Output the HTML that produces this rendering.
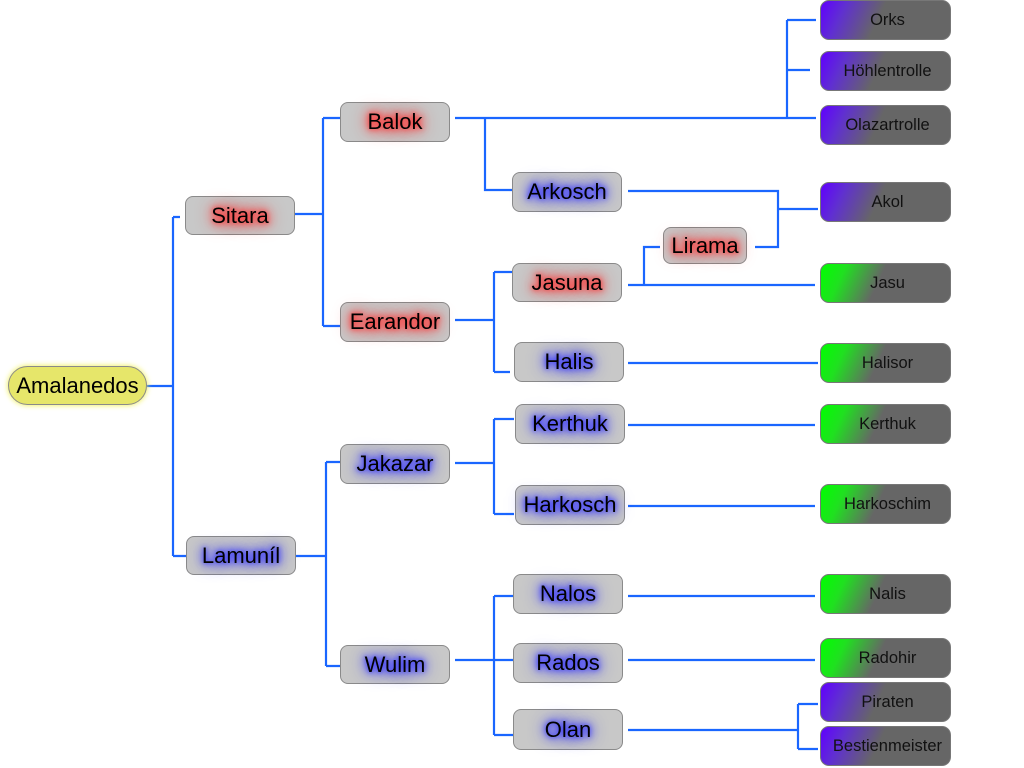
<!DOCTYPE html>
<html><head><meta charset="utf-8"><style>
body{margin:0;width:1024px;height:768px;background:#fff;position:relative;overflow:hidden;font-family:"Liberation Sans",sans-serif}
.n{position:absolute;box-sizing:border-box;background:#c8c8c8;border:1px solid #8a8a8a;border-radius:8px;display:flex;align-items:center;justify-content:center;font-size:22px;color:#000}
.r{text-shadow:0 0 5px #f33,0 0 9px #f33,0 0 14px #f44,0 0 18px #f55}
.b{text-shadow:0 0 5px #33f,0 0 9px #33f,0 0 14px #44f,0 0 18px #55f}
.y{background:#e6e66a;border-radius:20px;box-shadow:0 0 6px #ee4;}
.t{position:absolute;box-sizing:border-box;width:131px;height:40px;left:820px;border-radius:9px;border:1px solid #777;display:flex;align-items:center;justify-content:center;font-size:16.5px;color:#111;padding-left:4px}
.p{background:linear-gradient(115deg,#6000ff 0%,#6030d0 18%,#666 45%)}
.g{background:linear-gradient(115deg,#00ff00 0%,#20e020 18%,#666 45%)}
svg{position:absolute;left:0;top:0}
</style></head><body>
<svg width="1024" height="768"><g stroke="#1a66ff" stroke-width="2.2" fill="none">
<path d="M147 386H173M173 217V556M173 217H180M173 556H186"/>
<path d="M295 214H323M323 118V326M323 118H340M323 326H340"/>
<path d="M455 118H816M787 20V118M787 20H816M787 70H810M485 118V190H512"/>
<path d="M628 191H778V247H755M778 209H818M628 285H815M644 285V247H660"/>
<path d="M455 320H494M494 272V372M494 272H512M494 372H510M628 363H818"/>
<path d="M296 556H326M326 462V666M326 462H340M326 666H340"/>
<path d="M455 463H494M494 419V514M494 419H514M494 514H514M628 425H815M628 506H815"/>
<path d="M455 660H513M494 596V735M494 596H513M494 735H513M628 596H815M628 660H815M628 730H798M798 704V749M798 704H818M798 749H818"/>
</g></svg>
<div class="n y" style="left:8px;top:366px;width:139px;height:39px">Amalanedos</div>
<div class="n r" style="left:185px;top:196px;width:110px;height:39px">Sitara</div>
<div class="n b" style="left:186px;top:536px;width:110px;height:39px">Lamuníl</div>
<div class="n r" style="left:340px;top:102px;width:110px;height:40px">Balok</div>
<div class="n r" style="left:340px;top:302px;width:110px;height:40px">Earandor</div>
<div class="n b" style="left:340px;top:444px;width:110px;height:40px">Jakazar</div>
<div class="n b" style="left:340px;top:645px;width:110px;height:39px">Wulim</div>
<div class="n b" style="left:512px;top:172px;width:110px;height:40px">Arkosch</div>
<div class="n r" style="left:512px;top:263px;width:110px;height:39px">Jasuna</div>
<div class="n b" style="left:514px;top:342px;width:110px;height:40px">Halis</div>
<div class="n b" style="left:515px;top:404px;width:110px;height:40px">Kerthuk</div>
<div class="n b" style="left:515px;top:485px;width:110px;height:40px">Harkosch</div>
<div class="n b" style="left:513px;top:574px;width:110px;height:40px">Nalos</div>
<div class="n b" style="left:513px;top:643px;width:110px;height:40px">Rados</div>
<div class="n b" style="left:513px;top:709px;width:110px;height:41px">Olan</div>
<div class="n r" style="left:663px;top:227px;width:84px;height:37px">Lirama</div>
<div class="t p" style="top:0px">Orks</div>
<div class="t p" style="top:51px">Höhlentrolle</div>
<div class="t p" style="top:105px">Olazartrolle</div>
<div class="t p" style="top:182px">Akol</div>
<div class="t g" style="top:263px">Jasu</div>
<div class="t g" style="top:343px">Halisor</div>
<div class="t g" style="top:404px">Kerthuk</div>
<div class="t g" style="top:484px">Harkoschim</div>
<div class="t g" style="top:574px">Nalis</div>
<div class="t g" style="top:638px">Radohir</div>
<div class="t p" style="top:682px">Piraten</div>
<div class="t p" style="top:726px">Bestienmeister</div>
</body></html>
